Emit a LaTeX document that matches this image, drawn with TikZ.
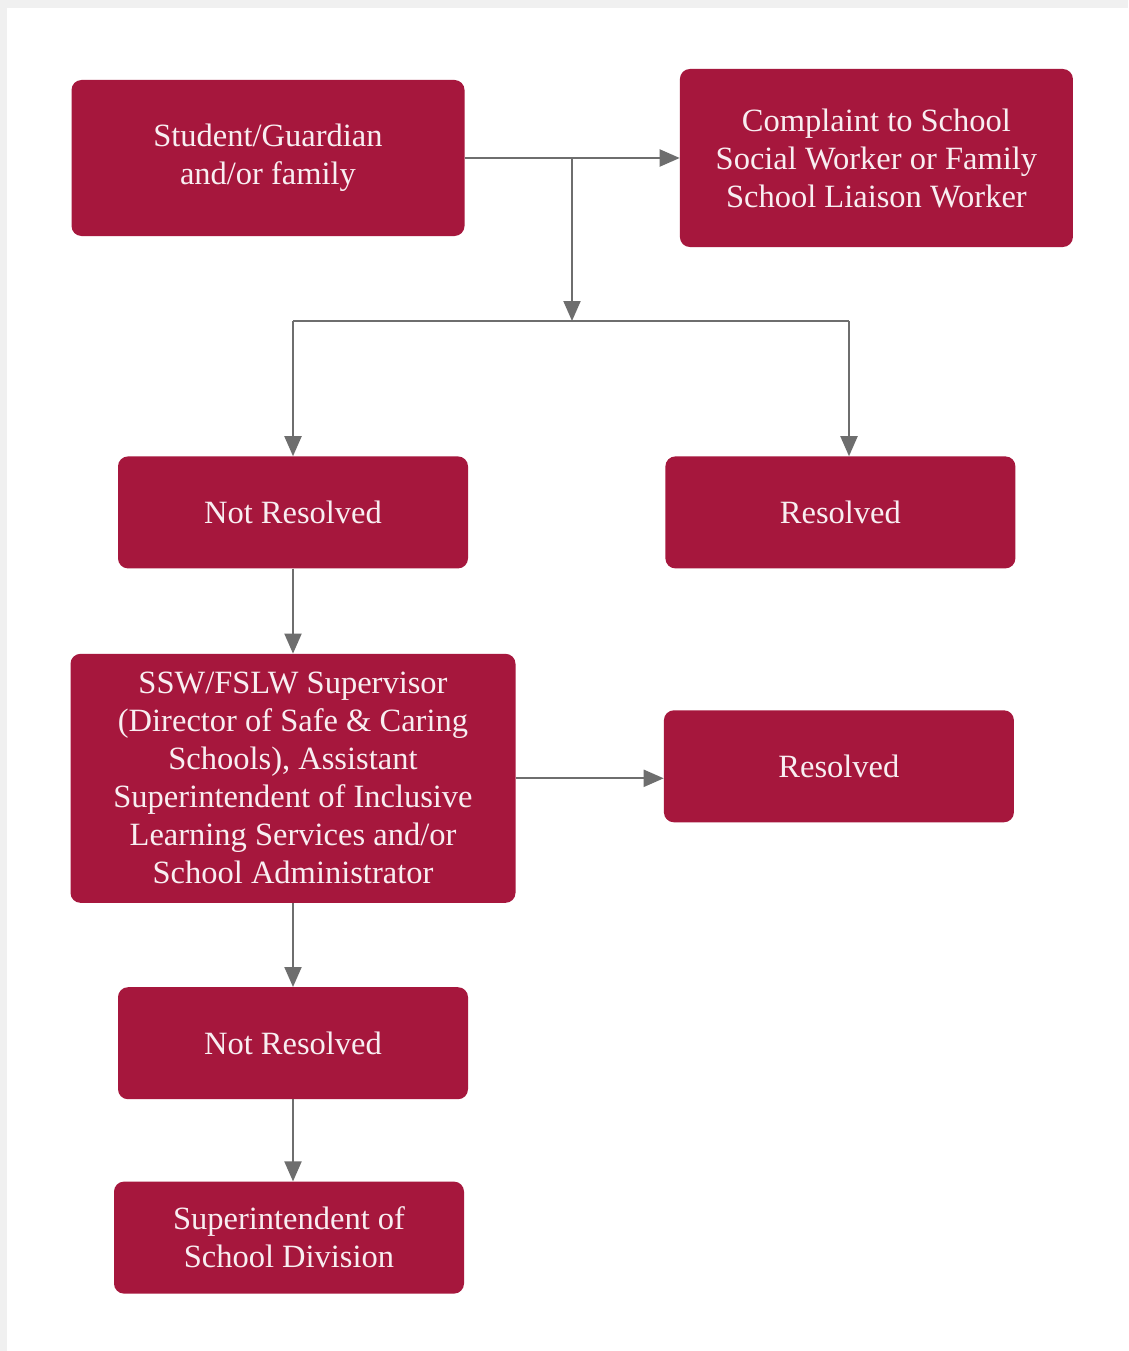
\documentclass[tikz,border=0pt]{standalone}
\usepackage{fontspec}
\setmainfont{Liberation Serif}
\usepackage{tikz}
\usetikzlibrary{
  arrows.meta,
  positioning,
  calc
}
\definecolor{csCrimson}{HTML}{A6173D}
\definecolor{csText}{HTML}{F8EEF1}
\definecolor{csLine}{HTML}{6E6E6E}
\definecolor{csFrame}{HTML}{F0F0F0}
\tikzset{
  casebox/.style={
    fill=csCrimson, draw=none, rounded corners=10pt, text=csText,
    font=\fontsize{32.5}{38}\selectfont, align=center, inner sep=0pt,
    minimum width=350pt, minimum height=112pt
  },
  widebox/.style={casebox, minimum width=393pt},
  flow/.style={-{Triangle[length=20pt, width=17pt]}, line width=2pt, csLine},
  netline/.style={line width=2pt, csLine}
}

\begin{document}
\begin{tikzpicture}[x=1pt, y=1pt]
  \useasboundingbox (0,0) rectangle (1128,-1351);
  \fill[csFrame] (0,0) rectangle (1128,-1351);
  \fill[white] (7,-8) rectangle (1128,-1351);

  \node[widebox, minimum height=156pt] (student) at (268,-158) {Student/Guardian\\and/or family};
  \node[widebox, minimum height=178pt, right=215pt of student] (complaint) {Complaint to School\\Social Worker or Family\\School Liaison Worker};
  \node[casebox, below=220pt of student, xshift=25pt] (notres1) {Not Resolved};
  \node[casebox, right=197pt of notres1] (res1) {Resolved};
  \node[casebox, minimum width=445pt, minimum height=249pt, below=85pt of notres1] (ssw) {SSW/FSLW Supervisor\\(Director of Safe \& Caring\\Schools), Assistant\\Superintendent of Inclusive\\Learning Services and/or\\School Administrator};
  \node[casebox, right=148pt of ssw, yshift=12pt] (res2) {Resolved};
  \node[casebox, below=84pt of ssw] (notres2) {Not Resolved};
  \node[casebox, below=82pt of notres2, xshift=-4pt] (super) {Superintendent of\\School Division};

  \coordinate (split) at (572,-158);
  \coordinate (fork) at (572,-321);
  \coordinate (forkL) at (293,-321);
  \coordinate (forkR) at (849,-321);

  \draw[flow] (student.east) -- (complaint.west);
  \draw[flow] (split) -- (fork);
  \draw[netline] (forkL) -- (forkR);
  \draw[flow] (forkL) -- (forkL |- notres1.north);
  \draw[flow] (forkR) -- (forkR |- res1.north);
  \draw[flow] (notres1.south) -- (notres1.south |- ssw.north);
  \draw[flow] (ssw.east) -- (ssw.east -| res2.west);
  \draw[flow] (ssw.south) -- (ssw.south |- notres2.north);
  \draw[flow] (notres2.south) -- (notres2.south |- super.north);
\end{tikzpicture}
\end{document}
